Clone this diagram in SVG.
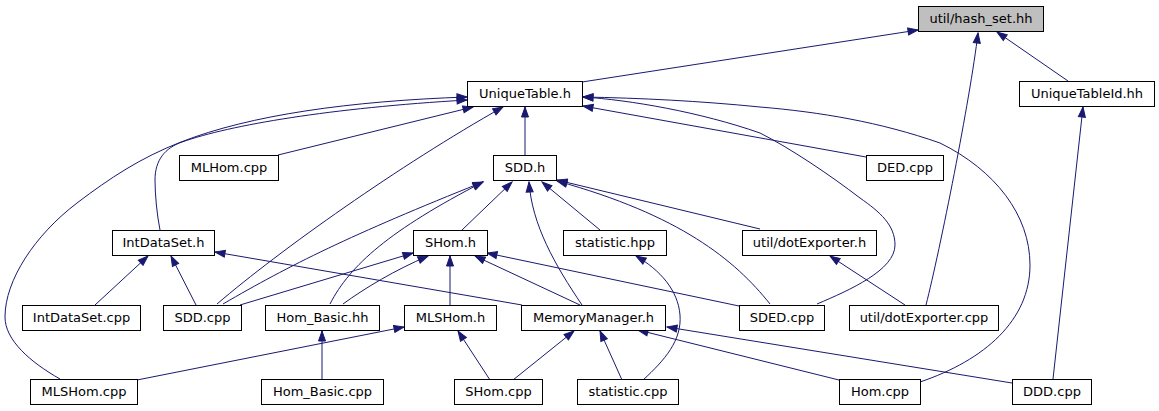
<svg xmlns="http://www.w3.org/2000/svg" width="1159" height="411" viewBox="0 0 1159 411">
<style>
.n rect{fill:#ffffff;stroke:#000000;stroke-width:1}
.n text{font-family:"DejaVu Sans","Liberation Sans",sans-serif;font-size:13px;fill:#000000;text-anchor:middle}
.e path{fill:none;stroke:#191970;stroke-width:1;marker-end:url(#ah)}
</style>
<defs>
<marker id="ah" markerUnits="userSpaceOnUse" viewBox="-1 -1 12 9" markerWidth="12" markerHeight="9" refX="10" refY="3.5" orient="auto">
<path d="M0,0 L10,3.5 L0,7 Z" fill="#191970" stroke="#191970" stroke-width="1"/>
</marker>
</defs>
<rect width="1159" height="411" fill="#ffffff"/>
<g id="edges" class="e">
<path d="M582,82 L918,30"/>
<path d="M1068,81 L997,32"/>
<path d="M926,305 C940,250 970,100 978,33"/>
<path d="M1053,379 L1083,107"/>
<path d="M525,155 L525,107"/>
<path d="M278,155 L473,107"/>
<path d="M866,157 L583,106"/>
<path d="M920,382 C985,360 1030,320 1030,265 C1030,215 995,170 940,143 C880,122 820,112 760,107 C700,101 640,98 583,97"/>
<path d="M817,304 C850,290 895,270 895,245 C895,225 880,212 860,198 C830,175 790,148 760,133 C700,112 630,100 583,97"/>
<path d="M160,230 C157,215 155,195 155,180 C155,160 165,148 182,142 C230,125 330,108 467,100"/>
<path d="M60,379 C30,362 5,340 5,317 C5,280 35,235 77,203 C110,178 140,158 181,142 C250,115 350,101 467,97"/>
<path d="M217,304 C280,250 400,165 503,107"/>
<path d="M223,304 C290,265 350,235 483,182"/>
<path d="M330,304 C350,265 390,230 483,182"/>
<path d="M462,230 L512,182"/>
<path d="M582,305 C555,265 532,225 529,182"/>
<path d="M600,230 L542,182"/>
<path d="M760,229 L557,180"/>
<path d="M770,304 C735,260 680,215 557,181"/>
<path d="M240,305 L413,253"/>
<path d="M343,304 C365,288 395,270 428,256"/>
<path d="M450,305 L450,256"/>
<path d="M580,305 L475,256"/>
<path d="M739,306 L487,253"/>
<path d="M95,305 L148,256"/>
<path d="M196,305 L171,256"/>
<path d="M522,305 L215,252"/>
<path d="M513,380 L574,331"/>
<path d="M622,380 L600,331"/>
<path d="M839,380 L638,330"/>
<path d="M1012,383 L667,327"/>
<path d="M643,380 C665,360 682,340 680,315 C678,290 660,270 636,256"/>
<path d="M490,380 L458,331"/>
<path d="M137,380 L404,327"/>
<path d="M322,379 L322,331"/>
<path d="M905,305 L830,256"/>
</g>
<g id="hash_set" class="n"><rect x="918.5" y="6.5" width="125" height="25" style="fill:#bfbfbf"/><text x="981" y="23">util/hash_set.hh</text></g>
<g id="UniqueTable_h" class="n"><rect x="467.5" y="81.5" width="115" height="25"/><text x="525" y="98">UniqueTable.h</text></g>
<g id="UniqueTableId_hh" class="n"><rect x="1019.5" y="81.5" width="135" height="25"/><text x="1087" y="98">UniqueTableId.hh</text></g>
<g id="MLHom_cpp" class="n"><rect x="179.5" y="155.5" width="99" height="25"/><text x="229" y="172">MLHom.cpp</text></g>
<g id="SDD_h" class="n"><rect x="493.5" y="155.5" width="63" height="25"/><text x="525" y="172">SDD.h</text></g>
<g id="DED_cpp" class="n"><rect x="866.5" y="155.5" width="77" height="25"/><text x="905" y="172">DED.cpp</text></g>
<g id="IntDataSet_h" class="n"><rect x="112.5" y="230.5" width="102" height="25"/><text x="163.5" y="247">IntDataSet.h</text></g>
<g id="SHom_h" class="n"><rect x="413.5" y="230.5" width="74" height="25"/><text x="450.5" y="247">SHom.h</text></g>
<g id="statistic_hpp" class="n"><rect x="563.5" y="230.5" width="103" height="25"/><text x="615" y="247">statistic.hpp</text></g>
<g id="dotExporter_h" class="n"><rect x="742.5" y="230.5" width="134" height="25"/><text x="809.5" y="247">util/dotExporter.h</text></g>
<g id="IntDataSet_cpp" class="n"><rect x="22.5" y="305.5" width="118" height="25"/><text x="81.5" y="322">IntDataSet.cpp</text></g>
<g id="SDD_cpp" class="n"><rect x="163.5" y="305.5" width="78" height="25"/><text x="202.5" y="322">SDD.cpp</text></g>
<g id="Hom_Basic_hh" class="n"><rect x="265.5" y="305.5" width="114" height="25"/><text x="322.5" y="322">Hom_Basic.hh</text></g>
<g id="MLSHom_h" class="n"><rect x="404.5" y="305.5" width="92" height="25"/><text x="450.5" y="322">MLSHom.h</text></g>
<g id="MemoryManager_h" class="n"><rect x="521.5" y="305.5" width="144" height="25"/><text x="593.5" y="322">MemoryManager.h</text></g>
<g id="SDED_cpp" class="n"><rect x="739.5" y="305.5" width="85" height="25"/><text x="782" y="322">SDED.cpp</text></g>
<g id="dotExporter_cpp" class="n"><rect x="849.5" y="305.5" width="149" height="25"/><text x="924" y="322">util/dotExporter.cpp</text></g>
<g id="MLSHom_cpp" class="n"><rect x="30.5" y="379.5" width="107" height="25"/><text x="84" y="396">MLSHom.cpp</text></g>
<g id="Hom_Basic_cpp" class="n"><rect x="261.5" y="379.5" width="122" height="25"/><text x="322.5" y="396">Hom_Basic.cpp</text></g>
<g id="SHom_cpp" class="n"><rect x="454.5" y="379.5" width="88" height="25"/><text x="498.5" y="396">SHom.cpp</text></g>
<g id="statistic_cpp" class="n"><rect x="577.5" y="379.5" width="101" height="25"/><text x="628" y="396">statistic.cpp</text></g>
<g id="Hom_cpp" class="n"><rect x="839.5" y="379.5" width="81" height="25"/><text x="880" y="396">Hom.cpp</text></g>
<g id="DDD_cpp" class="n"><rect x="1012.5" y="379.5" width="79" height="25"/><text x="1052" y="396">DDD.cpp</text></g>
</svg>
